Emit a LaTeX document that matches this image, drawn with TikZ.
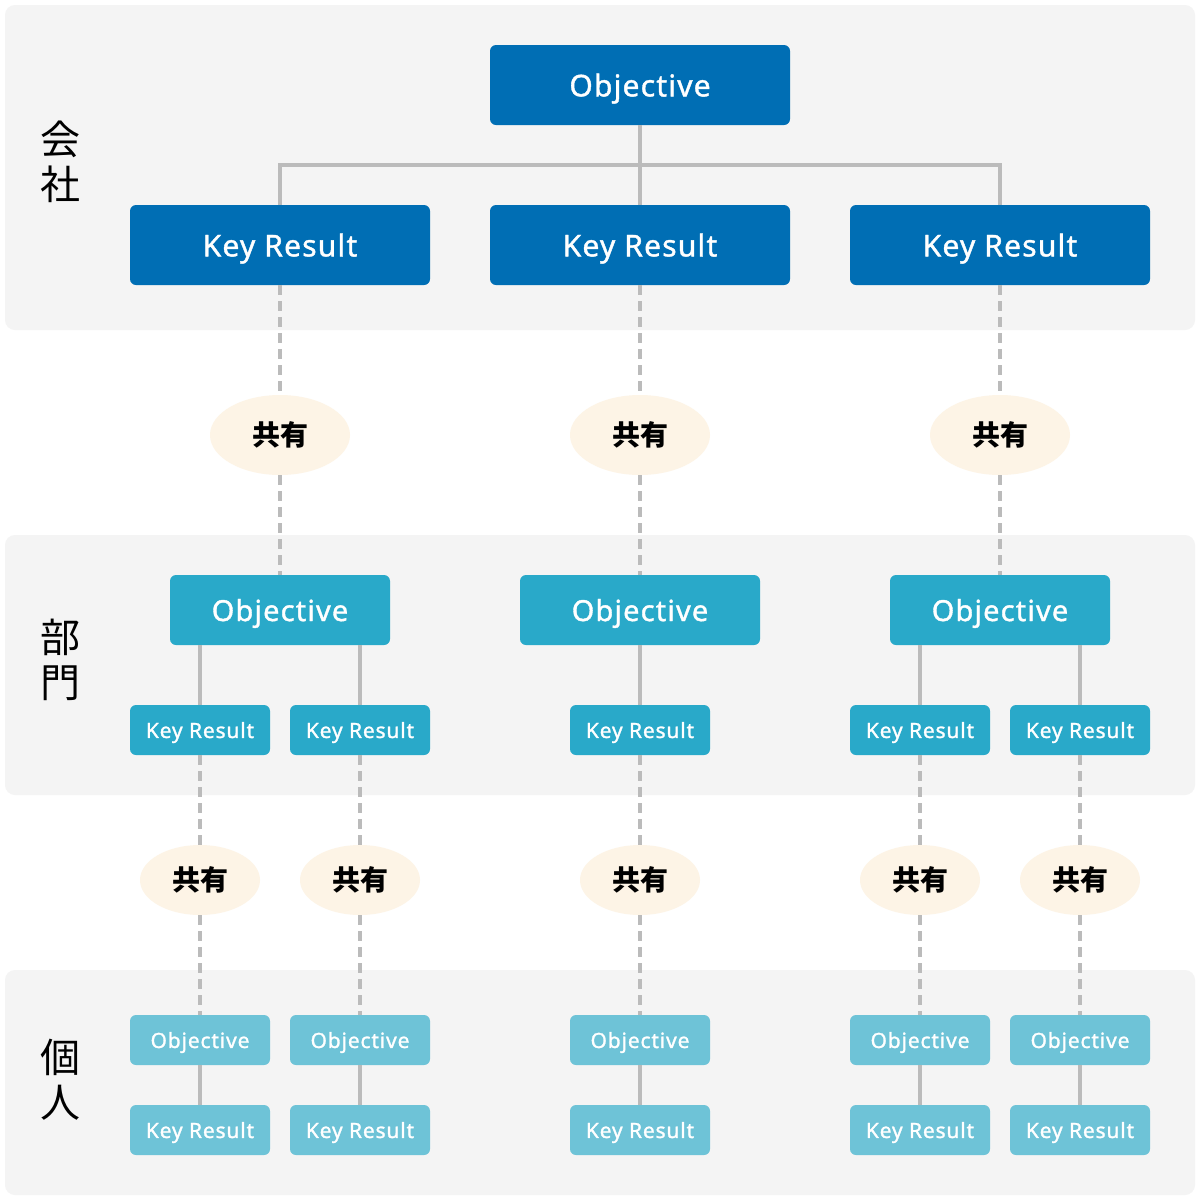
\documentclass[tikz,border=0pt]{standalone}
\usepackage{fontspec}
\setmainfont{Noto Sans}
\newfontfamily\cjk{Noto Sans CJK JP}
\newfontfamily\lat[LetterSpace=4, FakeBold=1.3]{Noto Sans}
\usetikzlibrary{shapes.geometric}
\definecolor{bandc}{HTML}{F4F4F4}
\definecolor{dk}{HTML}{006EB4}
\definecolor{md}{HTML}{29A9C9}
\definecolor{lt}{HTML}{6EC3D7}
\definecolor{ell}{HTML}{FDF4E6}
\definecolor{ln}{HTML}{BBBBBB}
\tikzset{
  band/.style={fill=bandc, draw=none, rounded corners=5pt},
  boxbase/.style={text=white, rounded corners=3pt, inner sep=0pt, text depth=0pt},
  bigbox/.style={boxbase, fill=dk, minimum width=150pt, minimum height=40pt, font=\lat\fontsize{15}{17}\selectfont},
  midobj/.style={boxbase, fill=md, minimum height=35pt, font=\lat\fontsize{14.5}{17}\selectfont},
  midkr/.style={boxbase, fill=md, minimum width=70pt, minimum height=25pt, font=\lat\fontsize{10.5}{12}\selectfont},
  smbox/.style={boxbase, fill=lt, minimum width=70pt, minimum height=25pt, font=\lat\fontsize{10.5}{12}\selectfont},
  share/.style={ellipse, fill=ell, inner sep=0pt, font=\cjk\bfseries\fontsize{14}{16}\selectfont},
  bigshare/.style={share, minimum width=70pt, minimum height=40pt},
  smshare/.style={share, minimum width=60pt, minimum height=35pt},
  conn/.style={draw=ln, line width=1.9pt},
  dconn/.style={draw=ln, line width=1.9pt, dash pattern=on 5pt off 3pt},
  tier/.style={font=\cjk\fontsize{20}{22.5}\selectfont, align=center, inner sep=0pt}
}
\begin{document}
\begin{tikzpicture}[x=0.5pt,y=-0.5pt]
\useasboundingbox (0,0) rectangle (1200,1200);
\fill[white] (0,0) rectangle (1200,1200);
% bands
\path[band] (5,5) rectangle (1195,330);
\path[band] (5,535) rectangle (1195,795);
\path[band] (5,970) rectangle (1195,1195);
% tier labels
\node[tier] (t1) at (60,162) {会\\社};
\node[tier] (t2) at (60,660) {部\\門};
\node[tier] (t3) at (60,1080) {個\\人};
% level 1
\node[bigbox] (o1) at (640,85) {Objective};
\node[bigbox] (k1a) at (280,245) {Key Result};
\node[bigbox] (k1b) at (640,245) {Key Result};
\node[bigbox] (k1c) at (1000,245) {Key Result};
\coordinate (bar) at (640,165);
\draw[conn] (o1.south) -- (k1b.north);
\draw[conn] (k1a.north) |- (bar) -| (k1c.north);
% shares level 1
\node[bigshare] (e1a) at (280,435) {共有};
\node[bigshare] (e1b) at (640,435) {共有};
\node[bigshare] (e1c) at (1000,435) {共有};
% level 2
\node[midobj, minimum width=110pt] (o2a) at (280,610) {Objective};
\node[midobj, minimum width=120pt] (o2b) at (640,610) {Objective};
\node[midobj, minimum width=110pt] (o2c) at (1000,610) {Objective};
\draw[dconn] (k1a.south) -- (e1a.north);
\draw[dconn] (k1b.south) -- (e1b.north);
\draw[dconn] (k1c.south) -- (e1c.north);
\draw[dconn] (e1a.south) -- (o2a.north);
\draw[dconn] (e1b.south) -- (o2b.north);
\draw[dconn] (e1c.south) -- (o2c.north);
\node[midkr] (k2a) at (200,730) {Key Result};
\node[midkr] (k2b) at (360,730) {Key Result};
\node[midkr] (k2c) at (640,730) {Key Result};
\node[midkr] (k2d) at (920,730) {Key Result};
\node[midkr] (k2e) at (1080,730) {Key Result};
\draw[conn] (o2a.south -| k2a.north) -- (k2a.north);
\draw[conn] (o2a.south -| k2b.north) -- (k2b.north);
\draw[conn] (o2b.south) -- (k2c.north);
\draw[conn] (o2c.south -| k2d.north) -- (k2d.north);
\draw[conn] (o2c.south -| k2e.north) -- (k2e.north);
% shares level 2
\node[smshare] (e2a) at (200,880) {共有};
\node[smshare] (e2b) at (360,880) {共有};
\node[smshare] (e2c) at (640,880) {共有};
\node[smshare] (e2d) at (920,880) {共有};
\node[smshare] (e2e) at (1080,880) {共有};
% level 3
\node[smbox] (o3a) at (200,1040) {Objective};
\node[smbox] (o3b) at (360,1040) {Objective};
\node[smbox] (o3c) at (640,1040) {Objective};
\node[smbox] (o3d) at (920,1040) {Objective};
\node[smbox] (o3e) at (1080,1040) {Objective};
\node[smbox] (k3a) at (200,1130) {Key Result};
\node[smbox] (k3b) at (360,1130) {Key Result};
\node[smbox] (k3c) at (640,1130) {Key Result};
\node[smbox] (k3d) at (920,1130) {Key Result};
\node[smbox] (k3e) at (1080,1130) {Key Result};
\foreach \s in {a,b,c,d,e}{
  \draw[dconn] (k2\s.south) -- (e2\s.north);
  \draw[dconn] (e2\s.south) -- (o3\s.north);
  \draw[conn] (o3\s.south) -- (k3\s.north);
}
\end{tikzpicture}
\end{document}
